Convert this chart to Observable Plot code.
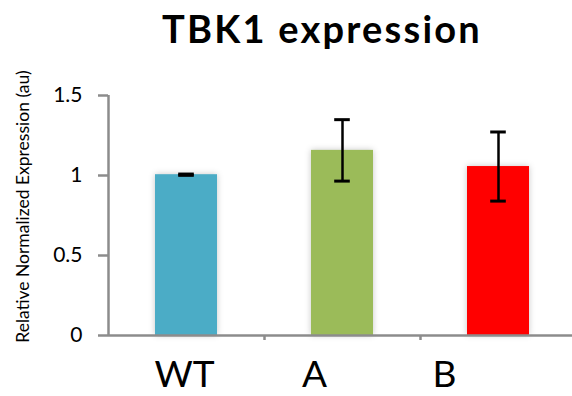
<!DOCTYPE html>
<html>
<head>
<meta charset="utf-8">
<script src="https://cdn.jsdelivr.net/npm/d3@7"></script>
<script src="https://cdn.jsdelivr.net/npm/@observablehq/plot@0.6"></script>
<style>
  html, body { margin: 0; padding: 0; background: #fff; overflow: hidden; width: 572px; height: 396px; }
  #title { height: 55px; box-sizing: border-box; padding-left: 72px; padding-top: 5px; text-align: center;
           font-family: Lato, "Open Sans", sans-serif; font-weight: bold; font-size: 38px; letter-spacing: 2.2px;
           line-height: 46px; color: #000; white-space: nowrap; }
  #chart svg { display: block; overflow: visible; }
</style>
</head>
<body>
<div id="title">TBK1 expression</div>
<div id="chart"></div>
<script>
// Data
const categories = ["WT", "A", "B"];
const values = [1.005, 1.157, 1.056];
const errors = [0.004, 0.192, 0.216];
const colors = ["#4BACC6", "#9BBB59", "#FF0000"];
const yTicks = [0, 0.5, 1, 1.5];
const yTickLabels = ["0", "0.5", "1", "1.5"];
const yTitle = "Relative Normalized Expression (au)";
// styling only
const labelDx = [-2, -28, -54];

const data = categories.map((c, i) => ({i, c, v: values[i], e: errors[i], color: colors[i]}));
const boundaries = categories.slice(1).map((_, i) => i + 0.5);
const caps = data.flatMap(d => [{i: d.i, y: d.v - d.e}, {i: d.i, y: d.v + d.e}]);

const axisGray = "#8c8c8c";
const font = "Lato, 'Open Sans', sans-serif";

const chart = Plot.plot({
  width: 572,
  height: 341,
  marginLeft: 108,
  marginRight: -4,
  marginTop: 40,
  marginBottom: 61,
  style: {fontFamily: font, background: "#fff", color: "#000"},
  x: {type: "linear", domain: [-0.5, categories.length - 0.5], axis: null},
  y: {domain: [0, 1.5], axis: null},
  marks: [
    Plot.rectY(data, {x1: d => d.i - 0.5, x2: d => d.i + 0.5, y1: 0, y2: "v", fill: "color", insetLeft: 47, insetRight: 47}),
    // x baseline and boundary ticks
    Plot.ruleY([0], {stroke: axisGray, strokeWidth: 2.5}),
    Plot.axisX({ticks: boundaries, tickSize: 5, tickFormat: () => "", label: null, stroke: axisGray, strokeWidth: 2.5}),
    // y axis
    Plot.ruleX([-0.5], {y1: 0, y2: 1.5, stroke: axisGray, strokeWidth: 2.5}),
    Plot.axisY({ticks: yTicks, tickSize: 10, tickPadding: 16, tickFormat: (d, k) => yTickLabels[k],
      stroke: axisGray, strokeWidth: 2.5, fontSize: 21, fill: "#000", label: null}),
    Plot.text([yTitle], {frameAnchor: "left", textAnchor: "middle", dx: -85, dy: -9, rotate: -90,
      fontSize: 17.5, fill: "#000", text: d => d}),
    // error bars
    Plot.ruleX(data, {x: "i", y1: d => d.v - d.e, y2: d => d.v + d.e, stroke: "#000", strokeWidth: 2.5}),
    Plot.ruleY(caps, {x1: d => d.i - 0.05, x2: d => d.i + 0.05, y: "y", stroke: "#000", strokeWidth: 3}),
    // category labels
    ...categories.map((c, k) => Plot.text([c], {x: () => k, y: 0, dy: 40, dx: labelDx[k], text: d => d,
      fontSize: 37, fill: "#000", lineAnchor: "middle"}))
  ]
});

d3.select(chart).selectAll("g[aria-label='rect'] rect").style("filter", "drop-shadow(0px 0px 3px rgba(0,0,0,0.22))");
document.getElementById("chart").appendChild(chart);
</script>
</body>
</html>
